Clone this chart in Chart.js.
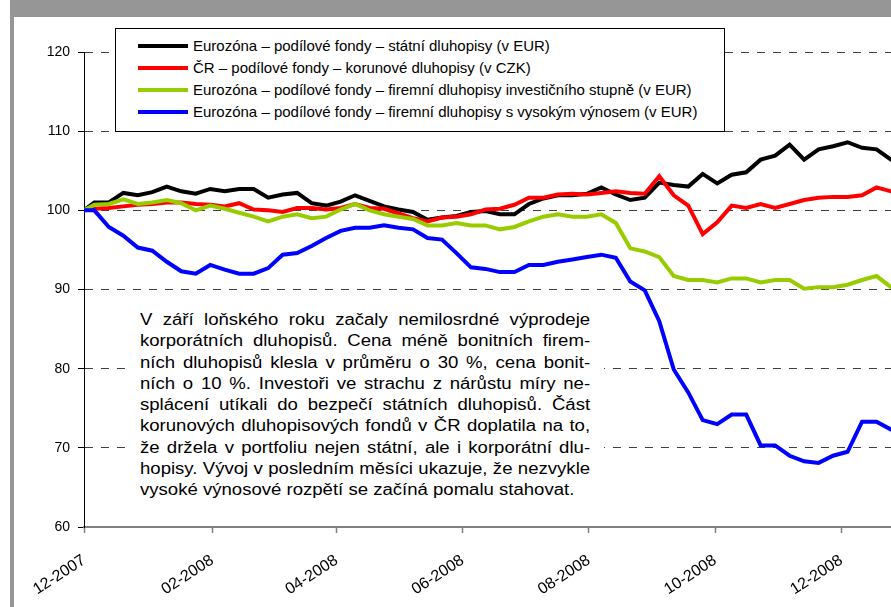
<!DOCTYPE html>
<html>
<head>
<meta charset="utf-8">
<script src="https://cdn.jsdelivr.net/npm/chart.js@4.4.1/dist/chart.umd.min.js"></script>
<style>
  html, body { margin: 0; padding: 0; background: #fff; }
  body { width: 891px; height: 607px; overflow: hidden; position: relative; font-family: "Liberation Sans", Arial, sans-serif; }
  #chart { position: absolute; left: 0; top: 0; }
  .frame { position: absolute; background: #969696; z-index: 3; }
  #legend { position: absolute; left: 115px; top: 28px; width: 610px; height: 104px; box-sizing: border-box;
            border: 1px solid #000; background: #fff; z-index: 2; }
  .row { position: absolute; left: 0; height: 22px; line-height: 22px; font-size: 15px; color: #000; white-space: nowrap; }
  .row .swatch { position: absolute; left: 22px; top: 9px; width: 50px; height: 4px; }
  .row .txt { position: absolute; left: 77px; top: 0; }
  #note { position: absolute; left: 126px; top: 300px; width: 478px; height: 205px; background: #fff; z-index: 2; }
  #noteText { position: absolute; left: 14px; top: 9px; width: 388px; transform: scaleX(1.16); transform-origin: 0 0;
              font-size: 16px; line-height: 21.3px; color: #000; }
  #noteText div { text-align: justify; text-align-last: justify; white-space: nowrap; }
  #noteText div.last { text-align-last: left; }
</style>
</head>
<body>
<div class="frame" style="left:10px;top:0;width:881px;height:17px"></div>
<div class="frame" style="left:10px;top:17px;width:4px;height:590px"></div>
<canvas id="chart" width="920" height="607"></canvas>
<div id="legend"></div>
<div id="note"><div id="noteText"></div></div>
<script>
// first observation, then weekly observations
const firstDate = '2007-12-01';
const firstWeek = '2007-12-06';
const weekCount = 57;
const axisEnd = '2009-01-08';
const tickLabels = ['12-2007', '02-2008', '04-2008', '06-2008', '08-2008', '10-2008', '12-2008'];

const govEur = [100.0, 101.0, 101.0, 102.2, 101.9, 102.3, 103.0, 102.4, 102.1, 102.7,
  102.4, 102.7, 102.7, 101.6, 102.0, 102.2, 100.9, 100.6, 101.1, 101.9,
  101.2, 100.5, 100.1, 99.8, 98.8, 99.1, 99.3, 99.8, 99.9, 99.5,
  99.5, 100.8, 101.5, 101.9, 101.9, 102.1, 102.9, 102.0, 101.3, 101.6,
  103.5, 103.2, 103.0, 104.6, 103.4, 104.5, 104.8, 106.4, 106.9, 108.3,
  106.4, 107.7, 108.1, 108.6, 107.9, 107.7, 106.4, 105.8];
const czkBonds = [100.0, 100.2, 100.3, 100.5, 100.7, 100.8, 101.0, 101.0, 100.8, 100.7,
  100.5, 100.9, 100.1, 100.0, 99.8, 100.3, 100.3, 100.1, 100.3, 100.8,
  100.3, 100.2, 99.6, 99.0, 98.6, 99.1, 99.2, 99.5, 100.1, 100.2,
  100.7, 101.6, 101.6, 102.0, 102.1, 102.0, 102.2, 102.4, 102.2, 102.1,
  104.3, 101.9, 100.6, 97.0, 98.5, 100.6, 100.3, 100.8, 100.3, 100.8,
  101.3, 101.6, 101.7, 101.7, 101.9, 102.9, 102.4, 102.2];
const corpIg = [100.0, 100.7, 100.8, 101.4, 100.8, 101.0, 101.3, 100.9, 100.0, 100.6,
  100.2, 99.7, 99.2, 98.6, 99.2, 99.5, 99.0, 99.2, 100.1, 100.8,
  100.0, 99.5, 99.2, 98.9, 98.1, 98.1, 98.4, 98.1, 98.1, 97.6,
  97.9, 98.6, 99.2, 99.5, 99.2, 99.2, 99.5, 98.4, 95.2, 94.8,
  94.1, 91.7, 91.2, 91.2, 90.9, 91.4, 91.4, 90.9, 91.2, 91.2,
  90.1, 90.3, 90.3, 90.6, 91.2, 91.7, 90.3, 89.8];
const corpHy = [100.0, 100.0, 97.9, 96.8, 95.3, 94.9, 93.5, 92.3, 92.0, 93.1,
  92.5, 92.0, 92.0, 92.7, 94.4, 94.6, 95.5, 96.5, 97.4, 97.8,
  97.8, 98.1, 97.8, 97.6, 96.5, 96.3, 94.6, 92.8, 92.6, 92.2,
  92.2, 93.1, 93.1, 93.5, 93.8, 94.1, 94.4, 94.0, 91.0, 89.9,
  86.0, 79.9, 77.0, 73.5, 73.0, 74.2, 74.2, 70.3, 70.3, 69.0,
  68.3, 68.1, 69.0, 69.5, 73.3, 73.3, 72.3, 71.8];

const seriesNames = [
  'Eurozóna – podílové fondy – státní dluhopisy (v EUR)',
  'ČR – podílové fondy – korunové dluhopisy (v CZK)',
  'Eurozóna – podílové fondy – firemní dluhopisy investičního stupně (v EUR)',
  'Eurozóna – podílové fondy – firemní dluhopisy s vysokým výnosem (v EUR)'
];
const seriesColors = ['#000000', '#ff0000', '#99cc00', '#0000ff'];
const seriesValues = [govEur, czkBonds, corpIg, corpHy];

const noteLines = [
  'V září loňského roku začaly nemilosrdné výprodeje',
  'korporátních dluhopisů. Cena méně bonitních firem-',
  'ních dluhopisů klesla v průměru o 30 %, cena bonit-',
  'ních o 10 %. Investoři ve strachu z nárůstu míry ne-',
  'splácení utíkali do bezpečí státních dluhopisů. Část',
  'korunových dluhopisových fondů v ČR doplatila na to,',
  'že držela v portfoliu nejen státní, ale i korporátní dlu-',
  'hopisy. Vývoj v posledním měsíci ukazuje, že nezvykle',
  'vysoké výnosové rozpětí se začíná pomalu stahovat.'
];

const DAY = 86400000;
const origin = Date.parse(firstDate);
const dayOf = iso => (Date.parse(iso) - origin) / DAY;
const days = [0];
for (let i = 0; i < weekCount; i++) days.push(dayOf(firstWeek) + 7 * i);
const tickDays = tickLabels.map(l => {
    const [m, y] = l.split('-').map(Number);
    return (Date.UTC(y, m - 1, 1) - origin) / DAY;
});

// legend
const legend = document.getElementById('legend');
seriesNames.forEach((name, i) => {
    const row = document.createElement('div');
    row.className = 'row';
    row.style.top = (6 + 22 * i) + 'px';
    row.innerHTML = `<span class="swatch" style="background:${seriesColors[i]}"></span><span class="txt">${name}</span>`;
    legend.appendChild(row);
});

// note
const note = document.getElementById('noteText');
noteLines.forEach((line, i) => {
    const d = document.createElement('div');
    d.textContent = line;
    if (i === noteLines.length - 1) d.className = 'last';
    else d.style.whiteSpace = 'normal';
    note.appendChild(d);
});

const font = { family: '"Liberation Sans", Arial, sans-serif' };

new Chart(document.getElementById('chart'), {
    type: 'line',
    data: {
        datasets: seriesValues.map((vals, i) => ({
            label: seriesNames[i],
            data: vals.map((v, j) => ({ x: days[j], y: v })),
            borderColor: seriesColors[i],
            borderWidth: 4,
            pointRadius: 0,
            tension: 0,
            fill: false
        })).reverse()
    },
    options: {
        responsive: false,
        animation: false,
        layout: { padding: { top: 52, left: 0, right: 0, bottom: 0 } },
        plugins: { legend: { display: false }, tooltip: { enabled: false } },
        scales: {
            x: {
                type: 'linear',
                min: 0,
                max: dayOf(axisEnd),
                afterBuildTicks: scale => { scale.ticks = tickDays.map(v => ({ value: v })); },
                afterFit: scale => { scale.height = 80; },
                ticks: {
                    autoSkip: false,
                    minRotation: 33,
                    maxRotation: 33,
                    padding: 18,
                    color: '#000',
                    font: { ...font, size: 16 },
                    callback: (v, i) => tickLabels[i]
                },
                grid: { drawOnChartArea: false, drawTicks: true, tickLength: 6, tickColor: '#808080', tickWidth: 1.5 },
                border: { display: true, color: '#808080', width: 2 }
            },
            y: {
                min: 60,
                max: 120,
                afterFit: scale => { scale.width = 84; },
                ticks: { stepSize: 10, padding: 8, color: '#000', font: { ...font, size: 14 } },
                grid: {
                    color: c => c.tick && c.tick.value === 60 ? 'rgba(0,0,0,0)' : '#404040',
                    lineWidth: 1,
                    tickLength: 6,
                    tickColor: '#000',
                    tickBorderDash: []
                },
                border: { display: true, color: '#000', width: 1, dash: [8, 8] }
            }
        }
    }
});
</script>
</body>
</html>
